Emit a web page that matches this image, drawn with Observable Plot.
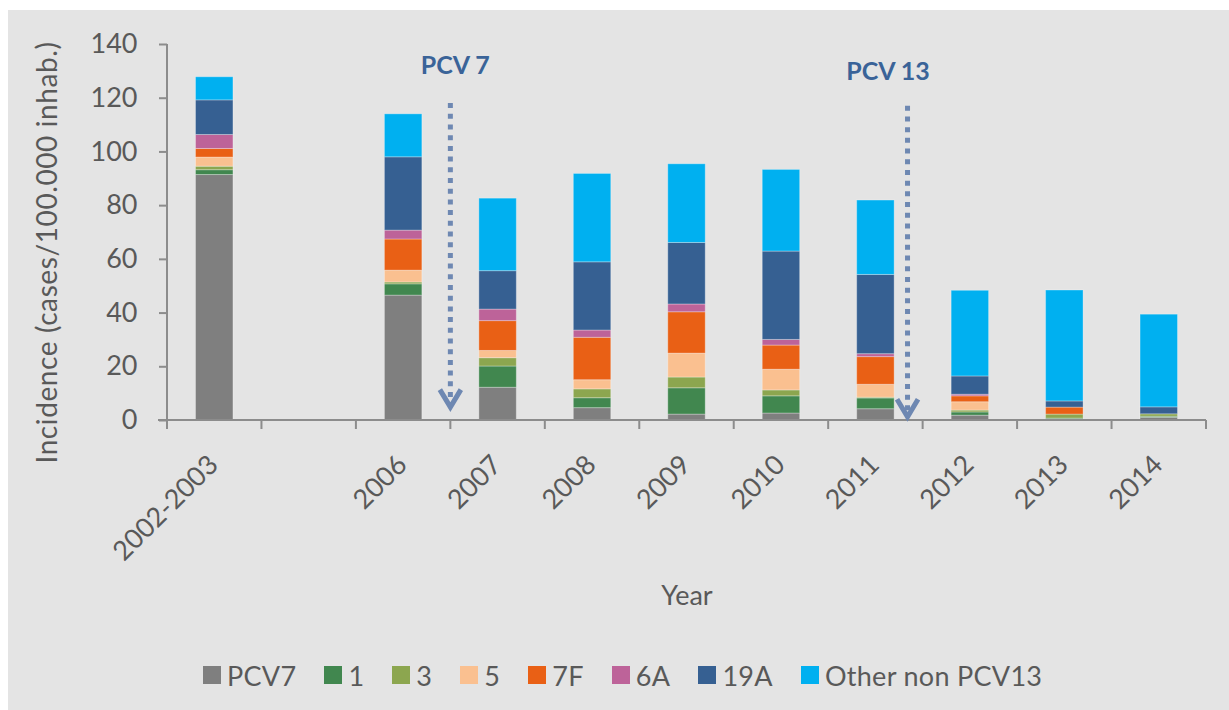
<!DOCTYPE html>
<html>
<head>
<meta charset="utf-8">
<script src="https://cdn.jsdelivr.net/npm/d3@7"></script>
<script src="https://cdn.jsdelivr.net/npm/@observablehq/plot@0.6"></script>
<style>
  html, body { margin: 0; padding: 0; background: #ffffff; }
  #wrap { position: relative; width: 1229px; height: 710px; overflow: hidden; }
  #bg { position: absolute; left: 8px; top: 10px; right: 0; bottom: 0; background: #E4E4E4; }
  #chart { position: absolute; left: 0; top: 0; }
  #legend { position: absolute; left: 203px; top: 660px; height: 30px; display: flex; align-items: center;
            font-family: Lato, "Open Sans", sans-serif; font-size: 27px; letter-spacing: 0.3px; color: #595959; white-space: nowrap; }
  .item { display: flex; align-items: center; margin-right: 28px; }
  .sw { width: 18px; height: 18px; margin-right: 6px; }
  .ytitle { letter-spacing: 0.6px; }
</style>
</head>
<body>
<div id="wrap">
  <div id="bg"></div>
  <div id="chart"></div>
  <div id="legend"></div>
</div>
<script>
// ---------------- data ----------------
const categories = ["2002-2003", "", "2006", "2007", "2008", "2009", "2010", "2011", "2012", "2013", "2014"];
const years      = ["2002-2003", "2006", "2007", "2008", "2009", "2010", "2011", "2012", "2013", "2014"];
const serotypes  = ["PCV7", "1", "3", "5", "7F", "6A", "19A", "Other non PCV13"];
const colors     = ["#7F7F7F", "#41874F", "#8CA64F", "#FAC090", "#E96015", "#BD6399", "#366092", "#00B0F0"];

const pcv7  = [91.4, 46.5, 12.2,  4.6,  2.2,  2.6,  4.2,  1.8,  0.4,  1.0];
const st1   = [ 1.8,  4.2,  7.9,  3.7,  9.8,  6.4,  4.0,  1.2,  0.3,  0.4];
const st3   = [ 1.3,  0.7,  3.1,  3.3,  4.0,  2.2,  0.3,  0.7,  1.5,  0.9];
const st5   = [ 3.4,  4.4,  2.7,  3.4,  8.9,  7.7,  4.8,  3.1,  0.0,  0.0];
const st7F  = [ 3.2, 11.6, 11.1, 15.8, 15.4,  9.0, 10.3,  2.2,  2.6,  0.0];
const st6A  = [ 5.2,  3.3,  4.3,  2.7,  2.9,  2.1,  1.1,  0.6,  0.0,  0.0];
const st19A = [12.9, 27.3, 14.3, 25.4, 22.9, 32.9, 29.5,  6.8,  2.3,  2.6];
const other = [ 8.6, 16.0, 27.0, 32.9, 29.3, 30.4, 27.7, 31.9, 41.3, 34.5];

const yTicks = [0, 20, 40, 60, 80, 100, 120, 140];
const yTitle = "Incidence (cases/100.000 inhab.)";
const xTitle = "Year";

// vaccine introduction annotations
const annLabels = ["PCV 7", "PCV 13"];
const annCats   = ["2007", "2011"];
const annFrac   = [0, 0.84];
const annTextY  = [132, 130];
const annTextDx = [5, -19.5];
const annTop    = [118, 117];
const annTip    = [4.8, 1.2];

// ---------------- build table ----------------
const seriesValues = [pcv7, st1, st3, st5, st7F, st6A, st19A, other];
const rows = [];
serotypes.forEach((s, si) => {
  years.forEach((yr, yi) => {
    const v = seriesValues[si][yi];
    if (v > 0) rows.push({year: yr, serotype: s, value: v});
  });
});

const FONT = 'Lato, "Open Sans", sans-serif';
const AXIS_GRAY = "#8C8C8C";
const ANN_TEXT = "#3A6398";
const ANN_LINE = "#6E88B2";

function decorations(index, scales, values, dims) {
  const {x, y} = scales;
  const x0 = x(categories[0]);
  const bw = x(categories[1]) - x(categories[0]);
  const xEnd = x0 + bw * categories.length;
  const g = d3.create("svg:g");
  g.append("line").attr("x1", x0).attr("x2", x0).attr("y1", y(140)).attr("y2", y(0))
    .attr("stroke", AXIS_GRAY).attr("stroke-width", 2);
  g.append("line").attr("x1", x0 - 9).attr("x2", xEnd).attr("y1", y(0)).attr("y2", y(0))
    .attr("stroke", AXIS_GRAY).attr("stroke-width", 2);
  for (let i = 0; i <= categories.length; i++) {
    const xx = x0 + i * bw;
    g.append("line").attr("x1", xx).attr("x2", xx).attr("y1", y(0)).attr("y2", y(0) + 9)
      .attr("stroke", AXIS_GRAY).attr("stroke-width", 2);
  }
  annLabels.forEach((lab, i) => {
    const ax = x(annCats[i]) + annFrac[i] * bw;
    const yTop = y(annTop[i]);
    const yTip = y(annTip[i]);
    g.append("line").attr("x1", ax).attr("x2", ax).attr("y1", yTop).attr("y2", yTip - 4)
      .attr("stroke", ANN_LINE).attr("stroke-width", 5).attr("stroke-dasharray", "5 5.7");
    g.append("path")
      .attr("d", `M${ax - 10.5},${yTip - 17.5}L${ax},${yTip}L${ax + 10.5},${yTip - 17.5}`)
      .attr("fill", "none").attr("stroke", ANN_LINE).attr("stroke-width", 5)
      .attr("stroke-linejoin", "miter");
    g.append("text").attr("x", ax + annTextDx[i]).attr("y", y(annTextY[i])).attr("dy", "0.36em")
      .attr("text-anchor", "middle").attr("fill", ANN_TEXT)
      .attr("font-family", FONT).attr("font-size", 25).attr("font-weight", "bold")
      .text(lab);
  });
  return g.node();
}

const chart = Plot.plot({
  width: 1229,
  height: 640,
  marginLeft: 167,
  marginRight: 23,
  marginTop: 44,
  marginBottom: 220,
  style: {background: "transparent", fontFamily: FONT, fontSize: "27px", color: "#595959", overflow: "visible"},
  x: {domain: categories, padding: 0, round: false, axis: null},
  y: {domain: [0, 140], axis: null},
  color: {domain: serotypes, range: colors},
  marks: [
    Plot.barY(rows, {
      x: "year", y: "value", fill: "serotype",
      insetLeft: 28.5, insetRight: 28.5,
      stroke: "#ffffff", strokeOpacity: 0.3, strokeWidth: 1
    }),
    Plot.axisY({
      ticks: yTicks, tickSize: 8, tickPadding: 22, fontSize: 27,
      stroke: AXIS_GRAY, strokeWidth: 2, fill: "#595959", label: null
    }),
    Plot.text(categories, {
      x: d => d, text: d => d, frameAnchor: "bottom",
      rotate: -45, textAnchor: "end", lineAnchor: "bottom",
      dx: 5, dy: 46, fontSize: 27, fill: "#595959"
    }),
    Plot.text([yTitle], {
      text: d => d, frameAnchor: "left", rotate: -90,
      textAnchor: "middle", lineAnchor: "middle", className: "ytitle",
      dx: -119, dy: 20, fontSize: 28, fill: "#595959"
    }),
    Plot.text([xTitle], {
      text: d => d, frameAnchor: "bottom", textAnchor: "middle", lineAnchor: "middle",
      dy: 176, fontSize: 27, fill: "#595959"
    }),
    decorations
  ]
});
document.getElementById("chart").appendChild(chart);

// legend
const legend = d3.select("#legend");
serotypes.forEach((s, i) => {
  const item = legend.append("div").attr("class", "item");
  item.append("div").attr("class", "sw").style("background", colors[i]);
  item.append("span").text(s);
});
</script>
</body>
</html>
